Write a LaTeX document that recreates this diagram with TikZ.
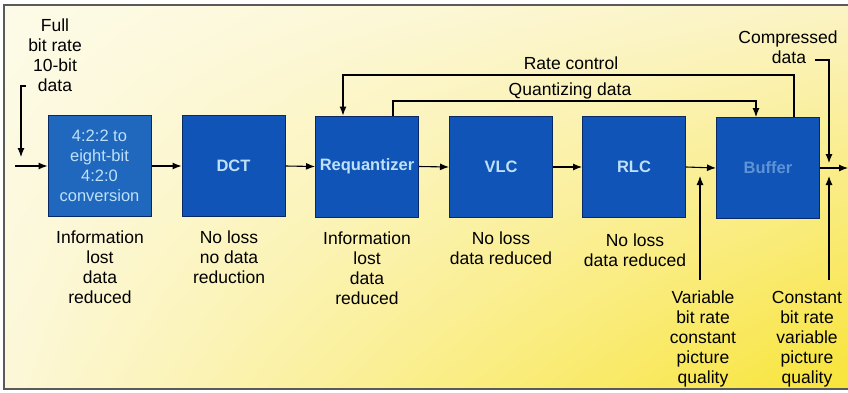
\documentclass[tikz,border=0pt]{standalone}
\usepackage{fontspec}
\setmainfont{Liberation Sans}
\usetikzlibrary{arrows.meta,calc,shadings}
\definecolor{boxblue}{RGB}{16,84,184}
\definecolor{boxblueA}{RGB}{32,104,190}
\definecolor{boxedge}{RGB}{10,40,100}
\definecolor{boxtext}{RGB}{190,225,248}
\definecolor{bgA}{RGB}{253,251,232}
\definecolor{bgB}{RGB}{251,243,196}
\definecolor{bgC}{RGB}{252,247,216}
\definecolor{bgD}{RGB}{248,228,56}
\definecolor{framegray}{RGB}{90,90,90}
\begin{document}
\begin{tikzpicture}[x=1pt,y=-1pt,
  every node/.style={font=\fontsize{17.5}{20}\selectfont, inner sep=0pt},
  blk/.style={draw=boxedge, line width=1pt, fill=boxblue, minimum width=103pt, minimum height=101pt, text=boxtext, align=center, font=\fontsize{16.5}{20}\selectfont\bfseries},
  lbl/.style={align=center, anchor=north, text=black},
  arr/.style={line width=1.1pt, -{Latex[length=9pt,width=7pt]}}]
\useasboundingbox (0,0) rectangle (848,392);
\fill[white] (0,0) rectangle (848,392);
\shade[upper left=bgA, upper right=bgB, lower left=bgC, lower right=bgD] (4,5) rectangle (848,389);
\draw[framegray, line width=1.2pt] (852,5) -- (4,5) -- (4,389) -- (852,389);

% blocks
\node[blk, fill=boxblueA, font=\fontsize{16.5}{20}\selectfont] (conv) at (99.5,166) {4:2:2 to\\eight-bit\\4:2:0\\conversion};
\node[blk] (dct) at (233.5,166) {DCT};
\node[blk] (req) at (367,166.5) {Requantizer};
\node[blk] (vlc) at (501,167) {VLC};
\node[blk] (rlc) at (634,167) {RLC};
\node[blk, text=boxtext!45!boxblue] (buf) at (768,168) {Buffer};

% texts
\node[lbl] (tin) at (55,19) {Full\\bit rate\\10-bit\\data};
\node[lbl] (l1) at (100,231) {Information\\lost\\data\\reduced};
\node[lbl] (l2) at (229,231) {No loss\\no data\\reduction};
\node[lbl] (l3) at (367,232) {Information\\lost\\data\\reduced};
\node[lbl] (l4) at (501,232) {No loss\\data reduced};
\node[lbl] (l5) at (635,234) {No loss\\data reduced};
\node[lbl] (l6) at (703,291) {Variable\\bit rate\\constant\\picture\\quality};
\node[lbl] (l7) at (807,291) {Constant\\bit rate\\variable\\picture\\quality};
\node[anchor=base] (trc) at (571,69) {Rate control};
\node[anchor=base] (tqd) at (570,95) {Quantizing data};
\node[anchor=base] (tcd) at (788,43) {Compressed};
\node[anchor=base] (tcd2) at (789,63) {data};

% free ends
\coordinate (inA) at (26,86);
\coordinate (inB) at (15,166);
\coordinate (cdA) at (815,60);
\coordinate (outE) at (848,168);
\coordinate (vbA) at (700,280);
\coordinate (cbA) at (829,280);

% connectors
\draw[arr] (inA) -- (21,86) -- (21,157);
\draw[arr] (inB) -- (conv.west);
\draw[arr] (conv.east) -- (dct.west);
\draw[arr] (dct.east) -- (req.west);
\draw[arr] (req.east) -- (vlc.west);
\draw[arr] (vlc.east) -- (rlc.west);
\draw[arr] (rlc.east) -- (buf.west);
\draw[arr] (buf.east) -- (outE);
\draw[arr] ($(buf.north)+(26,0)$) -- (794,75) -- (343,75) -- ($(req.north)+(-24,0)$);
\draw[arr] ($(req.north)+(26,0)$) -- (393,101) -- (756,101) -- ($(buf.north)+(-12,0)$);
\draw[arr] (cdA) -- (829,60) -- (829,163);
\draw[arr] (vbA) -- (700,176);
\draw[arr] (cbA) -- (829,176);
\end{tikzpicture}
\end{document}
